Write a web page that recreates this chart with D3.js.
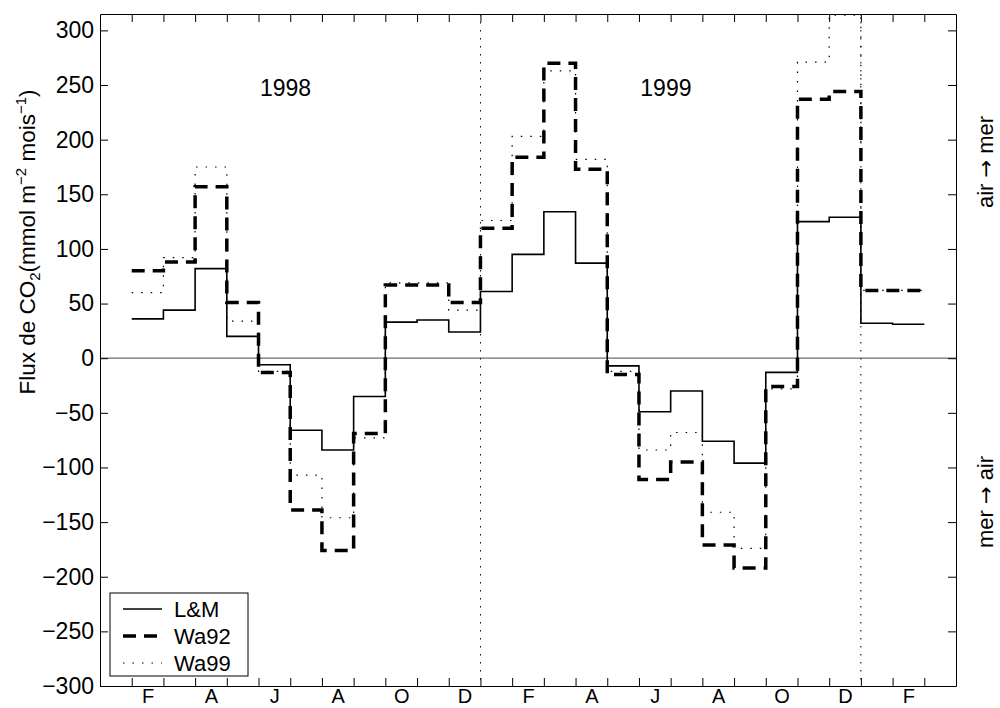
<!DOCTYPE html>
<html>
<head>
<meta charset="utf-8">
<script src="https://cdn.jsdelivr.net/npm/d3@7"></script>
<style>
  body { margin: 0; background: #fff; }
  svg { display: block; font-family: "Liberation Sans", Arial, sans-serif; }
</style>
</head>
<body>
<div id="chart"></div>
<script>
// flux mensuel, fev 1998 -> fev 2000 (mois 0 = janv 1998)
const startMonth = 1;
const lm = [36, 44, 82, 20, -6, -66, -84, -35, 33, 35, 24,
  61, 95, 134, 87, -7, -49, -30, -76, -96, -13, 125, 129,
  32, 31];
const wa92 = [80, 88, 157, 51, -13, -139, -176, -69, 67, 67, 51,
  119, 184, 270, 173, -15, -111, -95, -171, -192, -26, 237, 244,
  62, 62];
const wa99 = [60, 92, 175, 34, -12, -107, -146, -73, 69, 69, 44,
  126, 203, 263, 182, -12, -84, -68, -141, -174, -28, 271, 314,
  62, 62];
const monthLabels = ["F", "A", "J", "A", "O", "D", "F", "A", "J", "A", "O", "D", "F"];
const yTicks = d3.range(-300, 301, 50);
const seriesNames = ["L&M", "Wa92", "Wa99"];

const width = 1000;
const height = 708;
const margin = { top: 14, right: 44, bottom: 22, left: 100 };
const fontSize = 23;

const svg = d3.select("#chart").append("svg").attr("width", width).attr("height", height);

const x = d3.scaleLinear().domain([0, 27]).range([margin.left, width - margin.right]);
const y = d3.scaleLinear().domain([-300, 315]).range([height - margin.bottom, margin.top]);

const monthTicks = d3.range(1, 27);
const labelTicks = monthLabels.map((d, i) => startMonth + 2 * i + 0.5);

svg.append("defs").append("clipPath").attr("id", "plot-clip")
  .append("rect")
  .attr("x", x(0)).attr("y", y(315))
  .attr("width", x(27) - x(0)).attr("height", y(-300) - y(315));

// ligne zero
svg.append("line")
  .attr("x1", x(0)).attr("x2", x(27))
  .attr("y1", y(0)).attr("y2", y(0))
  .attr("stroke", "#6e6e6e")
  .attr("stroke-width", 1.2);

// separation des annees
svg.append("g")
  .selectAll("line")
  .data([12, 24])
  .join("line")
  .attr("x1", (d) => x(d)).attr("x2", (d) => x(d))
  .attr("y1", y(315)).attr("y2", y(-300))
  .attr("stroke", "#000")
  .attr("stroke-width", 1)
  .attr("stroke-dasharray", "1.5,6.5");

const styles = {
  "L&M": { width: 1.6, dash: null },
  Wa92: { width: 3.5, dash: "13,8" },
  Wa99: { width: 1.2, dash: "1.5,8" },
};

const toSteps = (vals) =>
  vals.map((v, i) => ({ m: startMonth + i, v }))
    .concat([{ m: startMonth + vals.length, v: vals[vals.length - 1] }]);

const stairs = d3.line()
  .x((d) => x(d.m))
  .y((d) => y(d.v))
  .curve(d3.curveStepAfter);

const series = [lm, wa92, wa99];
svg.append("g")
  .attr("clip-path", "url(#plot-clip)")
  .selectAll("path")
  .data(series)
  .join("path")
  .attr("fill", "none")
  .attr("stroke", "#000")
  .attr("stroke-width", (d, i) => styles[seriesNames[i]].width)
  .attr("stroke-dasharray", (d, i) => styles[seriesNames[i]].dash)
  .attr("d", (d) => stairs(toSteps(d)));

// axes (ticks vers l'interieur, cadre complet)
const yAxis = (g) =>
  g.attr("transform", `translate(${x(0)},0)`)
    .call(d3.axisLeft(y).tickValues(yTicks).tickSizeInner(-8).tickSizeOuter(0).tickPadding(6));
const yAxisRight = (g) =>
  g.attr("transform", `translate(${x(27)},0)`)
    .call(d3.axisRight(y).tickValues(yTicks).tickSizeInner(-8).tickSizeOuter(0).tickFormat(""));
const xAxis = (g) =>
  g.attr("transform", `translate(0,${y(-300)})`)
    .call(d3.axisBottom(x).tickValues(monthTicks).tickSizeInner(-8).tickSizeOuter(0).tickFormat(""));
const xAxisTop = (g) =>
  g.attr("transform", `translate(0,${y(315)})`)
    .call(d3.axisTop(x).tickValues(monthTicks).tickSizeInner(-8).tickSizeOuter(0).tickFormat(""));
const xLabels = (g) =>
  g.attr("transform", `translate(0,${y(-300)})`)
    .call(d3.axisBottom(x).tickValues(labelTicks).tickSize(0)
      .tickFormat((d, i) => monthLabels[i]))
    .call((g) => g.select(".domain").remove())
    .call((g) => g.selectAll(".tick text").attr("y", height - y(-300) - 5).attr("dy", null));

svg.append("g").call(yAxis);
svg.append("g").call(yAxisRight);
svg.append("g").call(xAxis);
svg.append("g").call(xAxisTop);
const xl = svg.append("g").call(xLabels);

svg.selectAll(".tick text")
  .attr("font-size", fontSize)
  .attr("font-family", '"Liberation Sans", Arial, sans-serif')
  .attr("fill", "#000");
xl.selectAll(".tick text").attr("font-size", 20);
svg.selectAll(".domain, .tick line").attr("stroke", "#000");

// annees
svg.append("g")
  .selectAll("text")
  .data([{ t: "1998", m: 5.85 }, { t: "1999", m: 17.85 }])
  .join("text")
  .attr("x", (d) => x(d.m))
  .attr("y", y(240))
  .attr("text-anchor", "middle")
  .attr("font-size", 23)
  .text((d) => d.t);

// titre axe y
const ylab = svg.append("text")
  .attr("transform", "translate(35,242) rotate(-90)")
  .attr("text-anchor", "middle")
  .attr("font-size", 22.5);
ylab.append("tspan").text("Flux de CO");
ylab.append("tspan").attr("font-size", 15).attr("dy", 5).text("2");
ylab.append("tspan").attr("dy", -5).text("(mmol m");
ylab.append("tspan").attr("font-size", 15).attr("dy", -9).text("\u22122");
ylab.append("tspan").attr("dy", 9).text(" mois");
ylab.append("tspan").attr("font-size", 15).attr("dy", -9).text("\u22121");
ylab.append("tspan").attr("dy", 9).text(")");

// sens du flux
const side = svg.append("g")
  .selectAll("text")
  .data([["air", "mer", 162], ["mer", "air", 502]])
  .join("text")
  .attr("transform", (d) => `translate(993,${d[2]}) rotate(-90)`)
  .attr("text-anchor", "middle")
  .attr("font-size", 22);
side.append("tspan").text((d) => d[0] + " ");
side.append("tspan").attr("font-family", '"DejaVu Sans", sans-serif').attr("font-size", 21).text("\u2192");
side.append("tspan").text((d) => " " + d[1]);

// legende
const legend = svg.append("g").attr("transform", "translate(110,593)");
legend.append("rect")
  .attr("width", 138).attr("height", 83)
  .attr("fill", "#fff").attr("stroke", "#000").attr("stroke-width", 1);
const item = legend.selectAll(".item")
  .data(seriesNames)
  .join("g")
  .attr("class", "item")
  .attr("transform", (d, i) => `translate(0,${16 + i * 27})`);
item.append("line")
  .attr("x1", 13).attr("x2", 52)
  .attr("stroke", "#000")
  .attr("stroke-width", (d) => styles[d].width)
  .attr("stroke-dasharray", (d) => styles[d].dash);
item.append("text")
  .attr("x", 64)
  .attr("dy", "0.36em")
  .attr("font-size", 22)
  .text((d) => d);
</script>
</body>
</html>
